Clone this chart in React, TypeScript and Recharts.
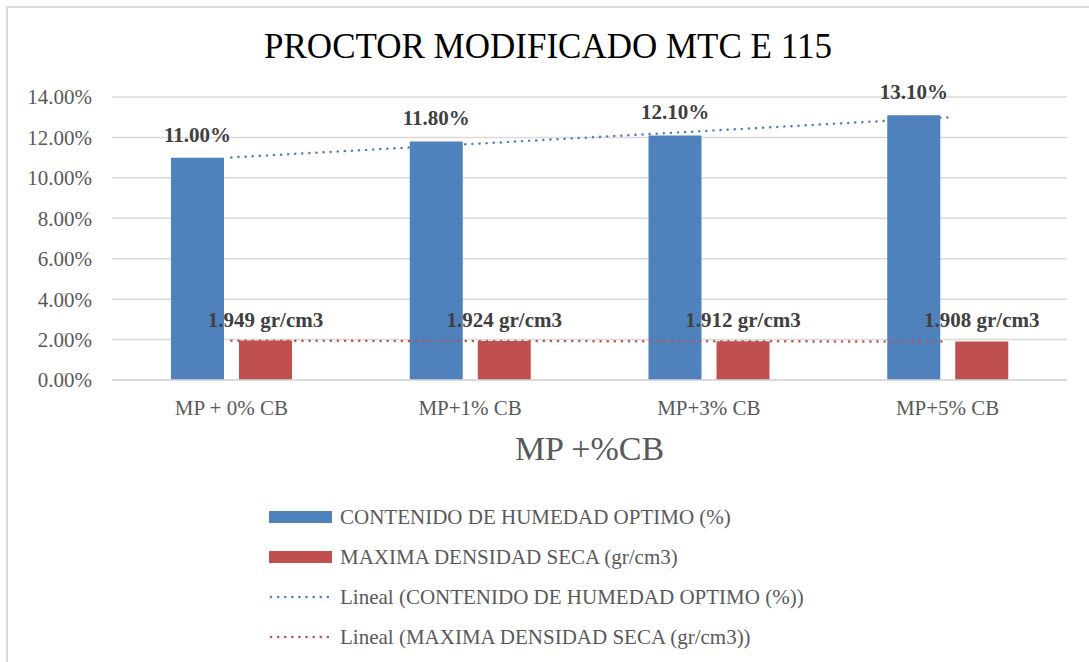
import { Bar, ComposedChart, Line, XAxis, YAxis, CartesianGrid, LabelList, Legend } from "recharts"

const categories = ["MP + 0% CB", "MP+1% CB", "MP+3% CB", "MP+5% CB"]
const humedad = [11.0, 11.8, 12.1, 13.1]
const densidad = [1.949, 1.924, 1.912, 1.908]
const yTicks = [0, 2, 4, 6, 8, 10, 12, 14]

const BLUE = "#4F81BD"
const RED = "#C0504D"
const FONT = "Liberation Serif, Times New Roman, serif"

// linear trendline (least squares over category index), like Excel's "Lineal"
function trend(values: number[]) {
  const n = values.length
  const xs = values.map((_, i) => i + 1)
  const mx = xs.reduce((a, b) => a + b, 0) / n
  const my = values.reduce((a, b) => a + b, 0) / n
  let num = 0
  let den = 0
  xs.forEach((x, i) => {
    num += (x - mx) * (values[i] - my)
    den += (x - mx) * (x - mx)
  })
  const slope = num / den
  return xs.map((x) => my + slope * (x - mx))
}

const trendH = trend(humedad)
const trendD = trend(densidad)

const data = categories.map((name, i) => ({
  name,
  humedad: humedad[i],
  densidad: densidad[i],
  trendH: trendH[i],
  trendD: trendD[i],
}))

const legendItems = [
  { label: "CONTENIDO DE HUMEDAD OPTIMO (%)", color: BLUE, kind: "bar" },
  { label: "MAXIMA DENSIDAD SECA (gr/cm3)", color: RED, kind: "bar" },
  { label: "Lineal (CONTENIDO DE HUMEDAD OPTIMO (%))", color: BLUE, kind: "line" },
  { label: "Lineal (MAXIMA DENSIDAD SECA (gr/cm3))", color: RED, kind: "line" },
]

function LegendBox() {
  return (
    <div style={{ fontFamily: FONT, fontSize: 21, color: "#595959" }}>
      {legendItems.map((it) => (
        <div key={it.label} style={{ display: "flex", alignItems: "center", height: 40 }}>
          <svg width={72} height={14}>
            {it.kind === "bar" ? (
              <rect x={1} y={1} width={63} height={12} fill={it.color} />
            ) : (
              <line
                x1={3}
                x2={63}
                y1={7}
                y2={7}
                stroke={it.color}
                strokeWidth={2.5}
                strokeDasharray="0.1 7"
                strokeLinecap="round"
              />
            )}
          </svg>
          <span style={{ whiteSpace: "nowrap" }}>{it.label}</span>
        </div>
      ))}
    </div>
  )
}

const makeLabel = (fmt: (v: number) => string, gap: number) => (props: any) => {
  const { x, y, width, value } = props
  return (
    <text
      x={Number(x) + Number(width) / 2}
      y={Number(y) - gap}
      textAnchor="middle"
      fill="#404040"
      fontSize={21}
      fontWeight={700}
      fontFamily={FONT}
    >
      {fmt(Number(value))}
    </text>
  )
}

export default function App() {
  return (
    <div style={{ position: "fixed", left: 0, top: 0, width: 1089, height: 662, background: "#fff", overflow: "hidden" }}>
      <div
        style={{
          position: "absolute",
          left: 6,
          top: 6,
          width: 1200,
          height: 800,
          borderLeft: "2px solid #D9D9D9",
          borderTop: "2px solid #D9D9D9",
        }}
      />
      <div
        style={{
          position: "absolute",
          left: 7,
          width: 1082,
          top: 27,
          textAlign: "center",
          fontFamily: FONT,
          fontSize: 35,
          lineHeight: "40px",
          color: "#000",
          whiteSpace: "nowrap",
        }}
      >
        PROCTOR MODIFICADO MTC E 115
      </div>
      <div style={{ position: "absolute", left: 0, top: 0 }}>
        <ComposedChart
          width={1089}
          height={662}
          data={data}
          margin={{ top: 97, right: 22, bottom: 182, left: 8 }}
          barSize={53}
          barGap={15}
          style={{ fontFamily: FONT }}
        >
          <CartesianGrid vertical={false} stroke="#D9D9D9" strokeWidth={1.5} />
          <XAxis
            dataKey="name"
            height={100}
            tickLine={false}
            tickSize={0}
            tickMargin={20}
            axisLine={{ stroke: "#D9D9D9", strokeWidth: 1.5 }}
            tick={{ fill: "#595959", fontSize: 21, fontFamily: FONT }}
            label={{
              value: "MP +%CB",
              position: "insideTop",
              offset: 56,
              fill: "#595959",
              fontSize: 34,
              fontFamily: FONT,
            }}
          />
          <YAxis
            width={104}
            domain={[0, 14]}
            ticks={yTicks}
            interval={0}
            tickLine={false}
            axisLine={false}
            tickSize={0}
            tickMargin={20}
            tickFormatter={(v: number) => `${v.toFixed(2)}%`}
            tick={{ fill: "#595959", fontSize: 21, fontFamily: FONT }}
          />
          <Bar dataKey="humedad" fill={BLUE} isAnimationActive={false}>
            <LabelList dataKey="humedad" content={makeLabel((v) => `${v.toFixed(2)}%`, 16)} />
          </Bar>
          <Bar dataKey="densidad" fill={RED} isAnimationActive={false}>
            <LabelList dataKey="densidad" content={makeLabel((v) => `${v.toFixed(3)} gr/cm3`, 14)} />
          </Bar>
          <Line
            dataKey="trendH"
            stroke={BLUE}
            strokeWidth={2.5}
            strokeDasharray="0.1 7"
            strokeLinecap="round"
            dot={false}
            activeDot={false}
            isAnimationActive={false}
          />
          <Line
            dataKey="trendD"
            stroke={RED}
            strokeWidth={2.5}
            strokeDasharray="0.1 7"
            strokeLinecap="round"
            dot={false}
            activeDot={false}
            isAnimationActive={false}
          />
          <Legend
            layout="vertical"
            align="center"
            verticalAlign="middle"
            content={() => <LegendBox />}
            wrapperStyle={{ top: 497, left: 268, width: "auto", height: "auto" }}
          />
        </ComposedChart>
      </div>
    </div>
  )
}
